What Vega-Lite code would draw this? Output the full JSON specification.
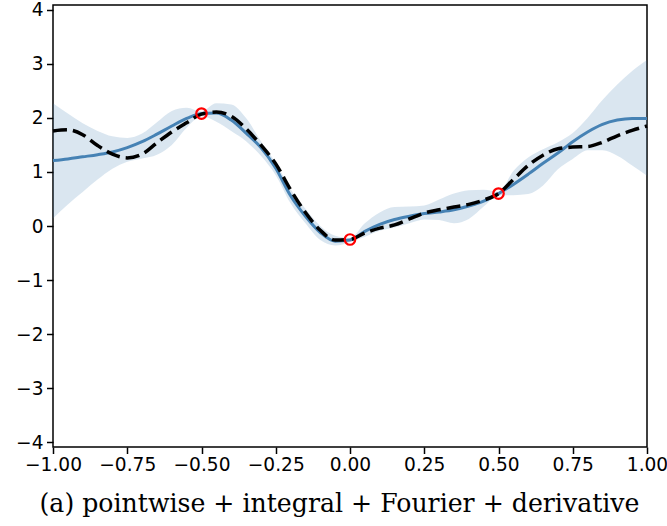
{
  "$schema": "https://vega.github.io/schema/vega-lite/v6.json",
  "autosize": {"type": "none"},
  "padding": {"left": 53, "top": 5, "right": 20, "bottom": 79},
  "width": 594,
  "height": 442,
  "background": "white",
  "config": {
    "view": {"stroke": "black", "strokeWidth": 1.5},
    "axis": {
      "grid": false,
      "domain": false,
      "tickColor": "black",
      "tickWidth": 1.5,
      "tickSize": 6.5,
      "labelFont": "DejaVu Sans",
      "labelFontSize": 18.6,
      "labelColor": "black",
      "labelOverlap": false,
      "labelFlush": false
    }
  },
  "datasets": {
    "curves": [
      {"x": -1.00, "mean": 1.21, "truth": 1.76, "lo": 0.14, "hi": 2.27},
      {"x": -0.95, "mean": 1.24, "truth": 1.78, "lo": 0.40, "hi": 2.08},
      {"x": -0.90, "mean": 1.28, "truth": 1.69, "lo": 0.63, "hi": 1.90},
      {"x": -0.85, "mean": 1.32, "truth": 1.49, "lo": 0.86, "hi": 1.76},
      {"x": -0.80, "mean": 1.37, "truth": 1.33, "lo": 1.06, "hi": 1.66},
      {"x": -0.75, "mean": 1.45, "truth": 1.26, "lo": 1.19, "hi": 1.63},
      {"x": -0.70, "mean": 1.56, "truth": 1.33, "lo": 1.25, "hi": 1.71},
      {"x": -0.65, "mean": 1.70, "truth": 1.54, "lo": 1.32, "hi": 1.92},
      {"x": -0.60, "mean": 1.85, "truth": 1.74, "lo": 1.50, "hi": 2.13},
      {"x": -0.55, "mean": 1.99, "truth": 1.91, "lo": 1.82, "hi": 2.19},
      {"x": -0.50, "mean": 2.08, "truth": 2.07, "lo": 2.03, "hi": 2.12},
      {"x": -0.45, "mean": 2.09, "truth": 2.11, "lo": 1.93, "hi": 2.27},
      {"x": -0.40, "mean": 1.96, "truth": 2.03, "lo": 1.76, "hi": 2.25},
      {"x": -0.35, "mean": 1.72, "truth": 1.80, "lo": 1.57, "hi": 2.00},
      {"x": -0.30, "mean": 1.45, "truth": 1.50, "lo": 1.30, "hi": 1.57},
      {"x": -0.25, "mean": 1.07, "truth": 1.15, "lo": 0.94, "hi": 1.17},
      {"x": -0.20, "mean": 0.56, "truth": 0.67, "lo": 0.42, "hi": 0.68},
      {"x": -0.15, "mean": 0.18, "truth": 0.25, "lo": 0.05, "hi": 0.32},
      {"x": -0.10, "mean": -0.12, "truth": -0.08, "lo": -0.26, "hi": 0.00},
      {"x": -0.05, "mean": -0.28, "truth": -0.26, "lo": -0.36, "hi": -0.18},
      {"x": 0.00, "mean": -0.26, "truth": -0.25, "lo": -0.30, "hi": -0.22},
      {"x": 0.05, "mean": -0.10, "truth": -0.13, "lo": -0.20, "hi": 0.05},
      {"x": 0.10, "mean": 0.03, "truth": -0.04, "lo": -0.09, "hi": 0.25},
      {"x": 0.15, "mean": 0.12, "truth": 0.02, "lo": -0.03, "hi": 0.35},
      {"x": 0.20, "mean": 0.18, "truth": 0.13, "lo": 0.05, "hi": 0.36},
      {"x": 0.25, "mean": 0.23, "truth": 0.24, "lo": 0.12, "hi": 0.38},
      {"x": 0.30, "mean": 0.26, "truth": 0.30, "lo": 0.11, "hi": 0.49},
      {"x": 0.35, "mean": 0.30, "truth": 0.35, "lo": 0.05, "hi": 0.60},
      {"x": 0.40, "mean": 0.37, "truth": 0.40, "lo": 0.13, "hi": 0.66},
      {"x": 0.45, "mean": 0.46, "truth": 0.48, "lo": 0.36, "hi": 0.67},
      {"x": 0.50, "mean": 0.60, "truth": 0.60, "lo": 0.57, "hi": 0.63},
      {"x": 0.55, "mean": 0.77, "truth": 0.86, "lo": 0.57, "hi": 1.02},
      {"x": 0.60, "mean": 0.96, "truth": 1.12, "lo": 0.59, "hi": 1.27},
      {"x": 0.65, "mean": 1.16, "truth": 1.31, "lo": 0.75, "hi": 1.42},
      {"x": 0.70, "mean": 1.35, "truth": 1.43, "lo": 1.05, "hi": 1.55},
      {"x": 0.75, "mean": 1.56, "truth": 1.46, "lo": 1.24, "hi": 1.72},
      {"x": 0.80, "mean": 1.74, "truth": 1.47, "lo": 1.40, "hi": 2.00},
      {"x": 0.85, "mean": 1.88, "truth": 1.55, "lo": 1.40, "hi": 2.33},
      {"x": 0.90, "mean": 1.96, "truth": 1.67, "lo": 1.30, "hi": 2.62},
      {"x": 0.95, "mean": 1.99, "truth": 1.77, "lo": 1.12, "hi": 2.87},
      {"x": 1.00, "mean": 1.99, "truth": 1.85, "lo": 0.93, "hi": 3.07}
    ],
    "obs": [
      {"x": -0.5, "y": 2.08},
      {"x": 0.0, "y": -0.25},
      {"x": 0.5, "y": 0.60}
    ]
  },
  "layer": [
    {
      "data": {"name": "curves"},
      "mark": {"type": "area", "color": "#4682b4", "opacity": 0.2, "interpolate": "monotone"},
      "encoding": {
        "x": {
          "field": "x", "type": "quantitative",
          "scale": {"domain": [-1, 1], "nice": false, "zero": false},
          "axis": {
            "values": [-1, -0.75, -0.5, -0.25, 0, 0.25, 0.5, 0.75, 1],
            "format": ".2f",
            "labelPadding": 2,
            "title": "(a) pointwise + integral + Fourier + derivative",
            "titleFont": "DejaVu Serif",
            "titleFontSize": 25.2,
            "titleFontWeight": "normal",
            "titleColor": "black",
            "titleBaseline": "alphabetic",
            "titleY": 64,
            "titleX": 286
          }
        },
        "y": {
          "field": "lo", "type": "quantitative",
          "scale": {"domain": [-4.09, 4.09], "nice": false, "zero": false},
          "axis": {
            "values": [-4, -3, -2, -1, 0, 1, 2, 3, 4],
            "format": "d",
            "labelPadding": 3.5,
            "title": null
          }
        },
        "y2": {"field": "hi"}
      }
    },
    {
      "data": {"name": "curves"},
      "mark": {"type": "line", "color": "#4682b4", "strokeWidth": 3, "interpolate": "monotone"},
      "encoding": {
        "x": {"field": "x", "type": "quantitative"},
        "y": {"field": "mean", "type": "quantitative"}
      }
    },
    {
      "data": {"name": "curves"},
      "mark": {"type": "line", "color": "black", "strokeWidth": 3.5, "strokeDash": [14, 6], "interpolate": "monotone"},
      "encoding": {
        "x": {"field": "x", "type": "quantitative"},
        "y": {"field": "truth", "type": "quantitative"}
      }
    },
    {
      "data": {"name": "obs"},
      "mark": {"type": "point", "shape": "circle", "filled": false, "stroke": "red", "strokeWidth": 2.2, "size": 110, "opacity": 1},
      "encoding": {
        "x": {"field": "x", "type": "quantitative"},
        "y": {"field": "y", "type": "quantitative"}
      }
    }
  ]
}
